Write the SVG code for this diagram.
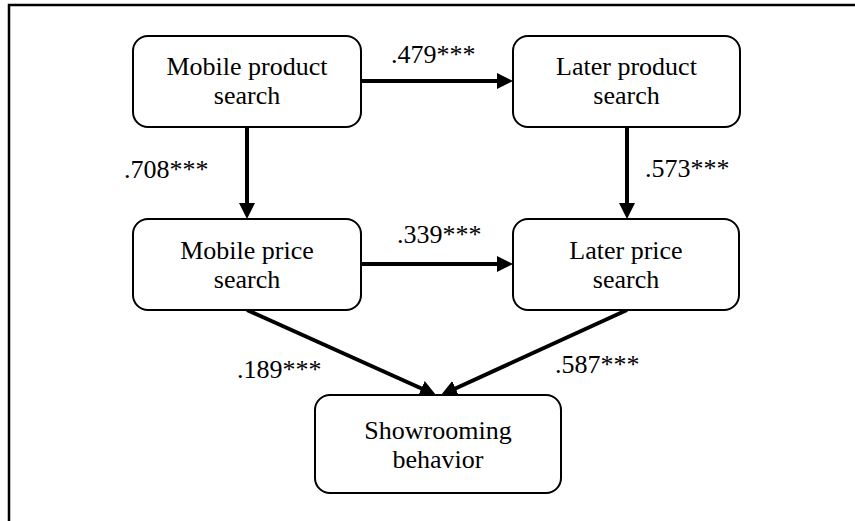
<svg xmlns="http://www.w3.org/2000/svg" width="855" height="521" viewBox="0 0 855 521">
  <style>
    .box { fill: #ffffff; stroke: #000000; stroke-width: 2; }
    text { font-family: 'Liberation Serif', 'DejaVu Serif', serif; font-size: 26px; fill: #000000; }
    .ctr { text-anchor: middle; }
    .edge { stroke: #000000; stroke-width: 4; fill: none; marker-end: url(#head); }
    .frame { stroke: #000000; stroke-width: 2.5; fill: none; }
  </style>
  <defs>
    <marker id="head" markerUnits="userSpaceOnUse" markerWidth="16" markerHeight="16" refX="8" refY="8" orient="auto" viewBox="0 0 16 16">
      <path d="M0,0 L16,8 L0,16 Z" fill="#000000"/>
    </marker>
  </defs>

  <rect width="855" height="521" fill="#ffffff"/>

  <!-- open frame: top rule and left rule -->
  <path class="frame" d="M855,5 L9,5 L9,521"/>

  <g id="connectors">
    <line class="edge" x1="361" y1="81" x2="505" y2="81"/>
    <line class="edge" x1="247" y1="127" x2="247" y2="211"/>
    <line class="edge" x1="627" y1="127" x2="627" y2="211"/>
    <line class="edge" x1="361" y1="264" x2="505" y2="264"/>
    <line class="edge" x1="247" y1="310" x2="428.7" y2="391.7"/>
    <line class="edge" x1="627" y1="310" x2="448.3" y2="391.7"/>
  </g>

  <g id="edge-labels" font-family="Liberation Serif, serif">
    <text x="391" y="63">.479***</text>
    <text x="124" y="178">.708***</text>
    <text x="645" y="177">.573***</text>
    <text x="397" y="243">.339***</text>
    <text x="237" y="378">.189***</text>
    <text x="555" y="373">.587***</text>
  </g>

  <g id="mobile-product-search">
    <rect class="box" x="133" y="36" width="228" height="91" rx="15" ry="15"/>
    <text class="ctr" x="247" y="75">Mobile product</text>
    <text class="ctr" x="247" y="104">search</text>
  </g>

  <g id="later-product-search">
    <rect class="box" x="513" y="36" width="227" height="91" rx="15" ry="15"/>
    <text class="ctr" x="626.5" y="75">Later product</text>
    <text class="ctr" x="626.5" y="104">search</text>
  </g>

  <g id="mobile-price-search">
    <rect class="box" x="133" y="219" width="228" height="91" rx="15" ry="15"/>
    <text class="ctr" x="247" y="259">Mobile price</text>
    <text class="ctr" x="247" y="288">search</text>
  </g>

  <g id="later-price-search">
    <rect class="box" x="513" y="219" width="226" height="91" rx="15" ry="15"/>
    <text class="ctr" x="626" y="259">Later price</text>
    <text class="ctr" x="626" y="288">search</text>
  </g>

  <g id="showrooming-behavior">
    <rect class="box" x="315" y="395" width="246" height="98" rx="15" ry="15"/>
    <text class="ctr" x="438" y="439">Showrooming</text>
    <text class="ctr" x="438" y="468">behavior</text>
  </g>
</svg>
